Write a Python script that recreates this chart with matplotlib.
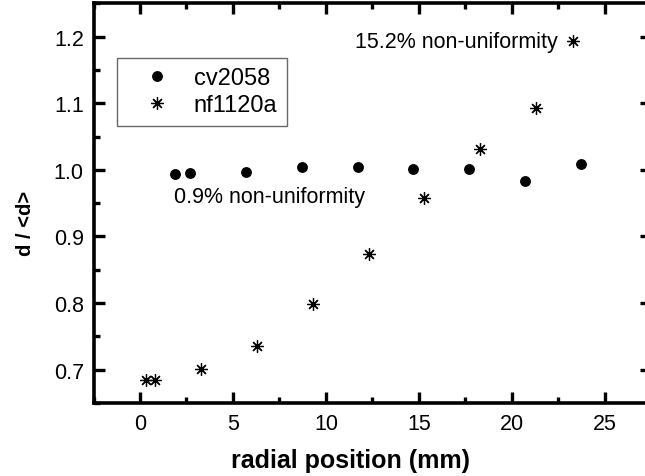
import numpy as np
import matplotlib
matplotlib.use("Agg")
from matplotlib import pyplot as plt
from matplotlib.ticker import MultipleLocator, FormatStrFormatter

# cv2058 (circles)
cv_x = [1.9, 2.7, 5.7, 8.7, 11.7, 14.7, 17.7, 20.7, 23.7]
cv_y = [0.994, 0.995, 0.997, 1.005, 1.005, 1.002, 1.002, 0.983, 1.009]

# nf1120a (asterisks)
nf_x = [0.3, 0.8, 3.3, 6.3, 9.3, 12.3, 15.3, 18.3, 21.3, 23.3]
nf_y = [0.684, 0.684, 0.701, 0.735, 0.798, 0.873, 0.958, 1.031, 1.093, 1.193]

plt.rcParams['font.family'] = ['Liberation Sans', 'DejaVu Sans']

fig = plt.figure(figsize=(6.45, 4.77), dpi=100)
ax = fig.add_axes([0.145, 0.153, 0.8647, 0.838])

ax.plot(cv_x, cv_y, linestyle='none', marker='o', markersize=6.8,
        color='black', label='cv2058')
ax.plot(nf_x, nf_y, linestyle='none', marker=(8, 2, 0), markersize=9,
        markeredgewidth=0.9, color='black', label='nf1120a')

ax.text(11.57, 1.1925, '15.2% non-uniformity', fontsize=15.5, va='center', ha='left')
ax.text(1.83, 0.9605, '0.9% non-uniformity', fontsize=15.5, va='center', ha='left')

ax.set_xlim(-2.5, 27.5)
ax.set_ylim(0.65, 1.25)
ax.xaxis.set_major_locator(MultipleLocator(5))
ax.xaxis.set_minor_locator(MultipleLocator(2.5))
ax.yaxis.set_major_locator(MultipleLocator(0.1))
ax.yaxis.set_minor_locator(MultipleLocator(0.05))
ax.yaxis.set_major_formatter(FormatStrFormatter('%.1f'))

for s in ax.spines.values():
    s.set_linewidth(2.6)
ax.tick_params(which='both', direction='in', top=True, right=True, labelsize=15.5)
ax.tick_params(which='major', length=8, width=2.4, pad=7)
ax.tick_params(which='minor', length=4, width=2.4)

ax.set_xlabel('radial position (mm)', fontsize=18, fontweight='bold')
ax.xaxis.set_label_coords(0.46, -0.112)
ax.set_ylabel('d / <d>', fontsize=14.5, fontweight='bold')
ax.yaxis.set_label_coords(-0.105, 0.453)

leg = ax.legend(loc='upper left', bbox_to_anchor=(0.0425, 0.863), fontsize=17,
                frameon=True, fancybox=False, edgecolor='#444444',
                handletextpad=0.24, borderpad=0.4, labelspacing=0.2, handlelength=2.6,
                borderaxespad=0)
leg.get_frame().set_linewidth(1.0)

fig.savefig('out.png', dpi=100)
